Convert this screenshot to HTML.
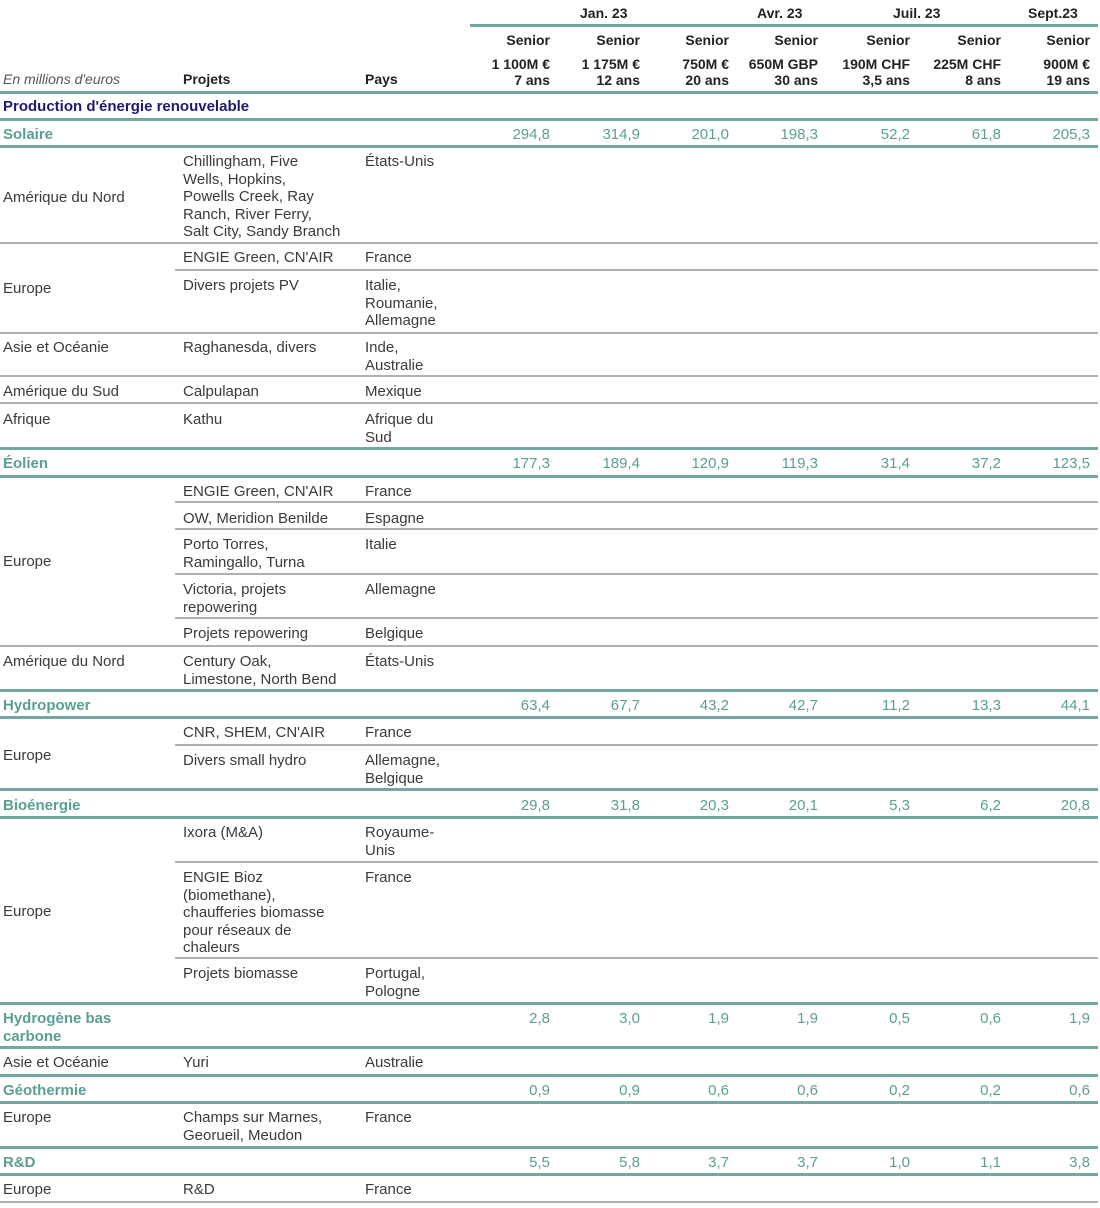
<!DOCTYPE html>
<html><head><meta charset="utf-8"><style>
body{margin:0;width:1100px;height:1208px;background:#fff;position:relative;overflow:hidden;font-family:"Liberation Sans",sans-serif;font-size:15px;color:#3a3a3a}
.t{position:absolute;line-height:17.5px;white-space:nowrap;margin-top:2px}
.r{position:absolute;line-height:17.5px;white-space:nowrap;text-align:right;margin-top:2px}
.h{font-weight:bold;color:#222;font-size:14px}
.s{color:#5a9e94;font-weight:bold}
.v{color:#5a9e94}
.tl{position:absolute;height:3px;background:#73a8a0;left:0;width:1098px}
.gl{position:absolute;height:2px;background:#b0b0b0;width:1098px}
</style></head><body>
<!-- lines -->
<div class="tl" style="top:24px;left:470px;width:628px"></div>
<div class="tl" style="top:91px"></div>
<div class="tl" style="top:118px"></div>
<div class="tl" style="top:145px"></div>
<div class="gl" style="top:242px;left:0"></div>
<div class="gl" style="top:269px;left:175px;width:923px"></div>
<div class="gl" style="top:332px;left:0"></div>
<div class="gl" style="top:375px;left:0"></div>
<div class="gl" style="top:402px;left:0"></div>
<div class="tl" style="top:447px"></div>
<div class="tl" style="top:475px"></div>
<div class="gl" style="top:501px;left:175px;width:923px"></div>
<div class="gl" style="top:528px;left:175px;width:923px"></div>
<div class="gl" style="top:573px;left:175px;width:923px"></div>
<div class="gl" style="top:617px;left:175px;width:923px"></div>
<div class="gl" style="top:645px;left:0"></div>
<div class="tl" style="top:689px"></div>
<div class="tl" style="top:716px"></div>
<div class="gl" style="top:744px;left:175px;width:923px"></div>
<div class="tl" style="top:788px"></div>
<div class="tl" style="top:816px"></div>
<div class="gl" style="top:861px;left:175px;width:923px"></div>
<div class="gl" style="top:957px;left:175px;width:923px"></div>
<div class="tl" style="top:1002px"></div>
<div class="tl" style="top:1046px"></div>
<div class="tl" style="top:1074px"></div>
<div class="tl" style="top:1101px"></div>
<div class="tl" style="top:1146px"></div>
<div class="tl" style="top:1173px"></div>
<div class="gl" style="top:1201px;left:0"></div>

<!-- header -->
<div class="t h" style="top:3px;left:580px">Jan. 23</div>
<div class="t h" style="top:3px;left:757px">Avr. 23</div>
<div class="t h" style="top:3px;left:893px">Juil. 23</div>
<div class="t h" style="top:3px;left:1028px">Sept.23</div>

<div class="r h" style="top:30px;right:550px">Senior</div>
<div class="r h" style="top:30px;right:460px">Senior</div>
<div class="r h" style="top:30px;right:371px">Senior</div>
<div class="r h" style="top:30px;right:282px">Senior</div>
<div class="r h" style="top:30px;right:190px">Senior</div>
<div class="r h" style="top:30px;right:99px">Senior</div>
<div class="r h" style="top:30px;right:10px">Senior</div>

<div class="r h" style="top:54px;right:550px;line-height:16px">1 100M €<br>7 ans</div>
<div class="r h" style="top:54px;right:460px;line-height:16px">1 175M €<br>12 ans</div>
<div class="r h" style="top:54px;right:371px;line-height:16px">750M €<br>20 ans</div>
<div class="r h" style="top:54px;right:282px;line-height:16px">650M GBP<br>30 ans</div>
<div class="r h" style="top:54px;right:190px;line-height:16px">190M CHF<br>3,5 ans</div>
<div class="r h" style="top:54px;right:99px;line-height:16px">225M CHF<br>8 ans</div>
<div class="r h" style="top:54px;right:10px;line-height:16px">900M €<br>19 ans</div>

<div class="t" style="top:69px;left:3px;font-style:italic;font-size:14px;color:#555">En millions d'euros</div>
<div class="t h" style="top:69px;left:183px">Projets</div>
<div class="t h" style="top:69px;left:365px">Pays</div>

<div class="t" style="top:96px;left:3px;font-weight:bold;color:#1c1c6e">Production d'énergie renouvelable</div>

<!-- Solaire -->
<div class="t s" style="top:124px;left:3px">Solaire</div>
<div class="r v" style="top:124px;right:550px">294,8</div>
<div class="r v" style="top:124px;right:460px">314,9</div>
<div class="r v" style="top:124px;right:371px">201,0</div>
<div class="r v" style="top:124px;right:282px">198,3</div>
<div class="r v" style="top:124px;right:190px">52,2</div>
<div class="r v" style="top:124px;right:99px">61,8</div>
<div class="r v" style="top:124px;right:10px">205,3</div>

<div class="t" style="top:187px;left:3px">Amérique du Nord</div>
<div class="t" style="top:151px;left:183px">Chillingham, Five<br>Wells, Hopkins,<br>Powells Creek, Ray<br>Ranch, River Ferry,<br>Salt City, Sandy Branch</div>
<div class="t" style="top:151px;left:365px">États-Unis</div>

<div class="t" style="top:278px;left:3px">Europe</div>
<div class="t" style="top:247px;left:183px">ENGIE Green, CN'AIR</div>
<div class="t" style="top:247px;left:365px">France</div>
<div class="t" style="top:275px;left:183px">Divers projets PV</div>
<div class="t" style="top:275px;left:365px">Italie,<br>Roumanie,<br>Allemagne</div>

<div class="t" style="top:337px;left:3px">Asie et Océanie</div>
<div class="t" style="top:337px;left:183px">Raghanesda, divers</div>
<div class="t" style="top:337px;left:365px">Inde,<br>Australie</div>

<div class="t" style="top:381px;left:3px">Amérique du Sud</div>
<div class="t" style="top:381px;left:183px">Calpulapan</div>
<div class="t" style="top:381px;left:365px">Mexique</div>

<div class="t" style="top:409px;left:3px">Afrique</div>
<div class="t" style="top:409px;left:183px">Kathu</div>
<div class="t" style="top:409px;left:365px">Afrique du<br>Sud</div>

<!-- Eolien -->
<div class="t s" style="top:453px;left:3px">Éolien</div>
<div class="r v" style="top:453px;right:550px">177,3</div>
<div class="r v" style="top:453px;right:460px">189,4</div>
<div class="r v" style="top:453px;right:371px">120,9</div>
<div class="r v" style="top:453px;right:282px">119,3</div>
<div class="r v" style="top:453px;right:190px">31,4</div>
<div class="r v" style="top:453px;right:99px">37,2</div>
<div class="r v" style="top:453px;right:10px">123,5</div>

<div class="t" style="top:551px;left:3px">Europe</div>
<div class="t" style="top:481px;left:183px">ENGIE Green, CN'AIR</div>
<div class="t" style="top:481px;left:365px">France</div>
<div class="t" style="top:508px;left:183px">OW, Meridion Benilde</div>
<div class="t" style="top:508px;left:365px">Espagne</div>
<div class="t" style="top:534px;left:183px">Porto Torres,<br>Ramingallo, Turna</div>
<div class="t" style="top:534px;left:365px">Italie</div>
<div class="t" style="top:579px;left:183px">Victoria, projets<br>repowering</div>
<div class="t" style="top:579px;left:365px">Allemagne</div>
<div class="t" style="top:623px;left:183px">Projets repowering</div>
<div class="t" style="top:623px;left:365px">Belgique</div>

<div class="t" style="top:651px;left:3px">Amérique du Nord</div>
<div class="t" style="top:651px;left:183px">Century Oak,<br>Limestone, North Bend</div>
<div class="t" style="top:651px;left:365px">États-Unis</div>

<!-- Hydropower -->
<div class="t s" style="top:695px;left:3px">Hydropower</div>
<div class="r v" style="top:695px;right:550px">63,4</div>
<div class="r v" style="top:695px;right:460px">67,7</div>
<div class="r v" style="top:695px;right:371px">43,2</div>
<div class="r v" style="top:695px;right:282px">42,7</div>
<div class="r v" style="top:695px;right:190px">11,2</div>
<div class="r v" style="top:695px;right:99px">13,3</div>
<div class="r v" style="top:695px;right:10px">44,1</div>

<div class="t" style="top:745px;left:3px">Europe</div>
<div class="t" style="top:722px;left:183px">CNR, SHEM, CN'AIR</div>
<div class="t" style="top:722px;left:365px">France</div>
<div class="t" style="top:750px;left:183px">Divers small hydro</div>
<div class="t" style="top:750px;left:365px">Allemagne,<br>Belgique</div>

<!-- Bioenergie -->
<div class="t s" style="top:795px;left:3px">Bioénergie</div>
<div class="r v" style="top:795px;right:550px">29,8</div>
<div class="r v" style="top:795px;right:460px">31,8</div>
<div class="r v" style="top:795px;right:371px">20,3</div>
<div class="r v" style="top:795px;right:282px">20,1</div>
<div class="r v" style="top:795px;right:190px">5,3</div>
<div class="r v" style="top:795px;right:99px">6,2</div>
<div class="r v" style="top:795px;right:10px">20,8</div>

<div class="t" style="top:901px;left:3px">Europe</div>
<div class="t" style="top:822px;left:183px">Ixora (M&amp;A)</div>
<div class="t" style="top:822px;left:365px">Royaume-<br>Unis</div>
<div class="t" style="top:867px;left:183px">ENGIE Bioz<br>(biomethane),<br>chaufferies biomasse<br>pour réseaux de<br>chaleurs</div>
<div class="t" style="top:867px;left:365px">France</div>
<div class="t" style="top:963px;left:183px">Projets biomasse</div>
<div class="t" style="top:963px;left:365px">Portugal,<br>Pologne</div>

<!-- Hydrogene -->
<div class="t s" style="top:1008px;left:3px">Hydrogène bas<br>carbone</div>
<div class="r v" style="top:1008px;right:550px">2,8</div>
<div class="r v" style="top:1008px;right:460px">3,0</div>
<div class="r v" style="top:1008px;right:371px">1,9</div>
<div class="r v" style="top:1008px;right:282px">1,9</div>
<div class="r v" style="top:1008px;right:190px">0,5</div>
<div class="r v" style="top:1008px;right:99px">0,6</div>
<div class="r v" style="top:1008px;right:10px">1,9</div>

<div class="t" style="top:1052px;left:3px">Asie et Océanie</div>
<div class="t" style="top:1052px;left:183px">Yuri</div>
<div class="t" style="top:1052px;left:365px">Australie</div>

<!-- Geothermie -->
<div class="t s" style="top:1080px;left:3px">Géothermie</div>
<div class="r v" style="top:1080px;right:550px">0,9</div>
<div class="r v" style="top:1080px;right:460px">0,9</div>
<div class="r v" style="top:1080px;right:371px">0,6</div>
<div class="r v" style="top:1080px;right:282px">0,6</div>
<div class="r v" style="top:1080px;right:190px">0,2</div>
<div class="r v" style="top:1080px;right:99px">0,2</div>
<div class="r v" style="top:1080px;right:10px">0,6</div>

<div class="t" style="top:1107px;left:3px">Europe</div>
<div class="t" style="top:1107px;left:183px">Champs sur Marnes,<br>Georueil, Meudon</div>
<div class="t" style="top:1107px;left:365px">France</div>

<!-- R&D -->
<div class="t s" style="top:1152px;left:3px">R&amp;D</div>
<div class="r v" style="top:1152px;right:550px">5,5</div>
<div class="r v" style="top:1152px;right:460px">5,8</div>
<div class="r v" style="top:1152px;right:371px">3,7</div>
<div class="r v" style="top:1152px;right:282px">3,7</div>
<div class="r v" style="top:1152px;right:190px">1,0</div>
<div class="r v" style="top:1152px;right:99px">1,1</div>
<div class="r v" style="top:1152px;right:10px">3,8</div>

<div class="t" style="top:1179px;left:3px">Europe</div>
<div class="t" style="top:1179px;left:183px">R&amp;D</div>
<div class="t" style="top:1179px;left:365px">France</div>
</body></html>
